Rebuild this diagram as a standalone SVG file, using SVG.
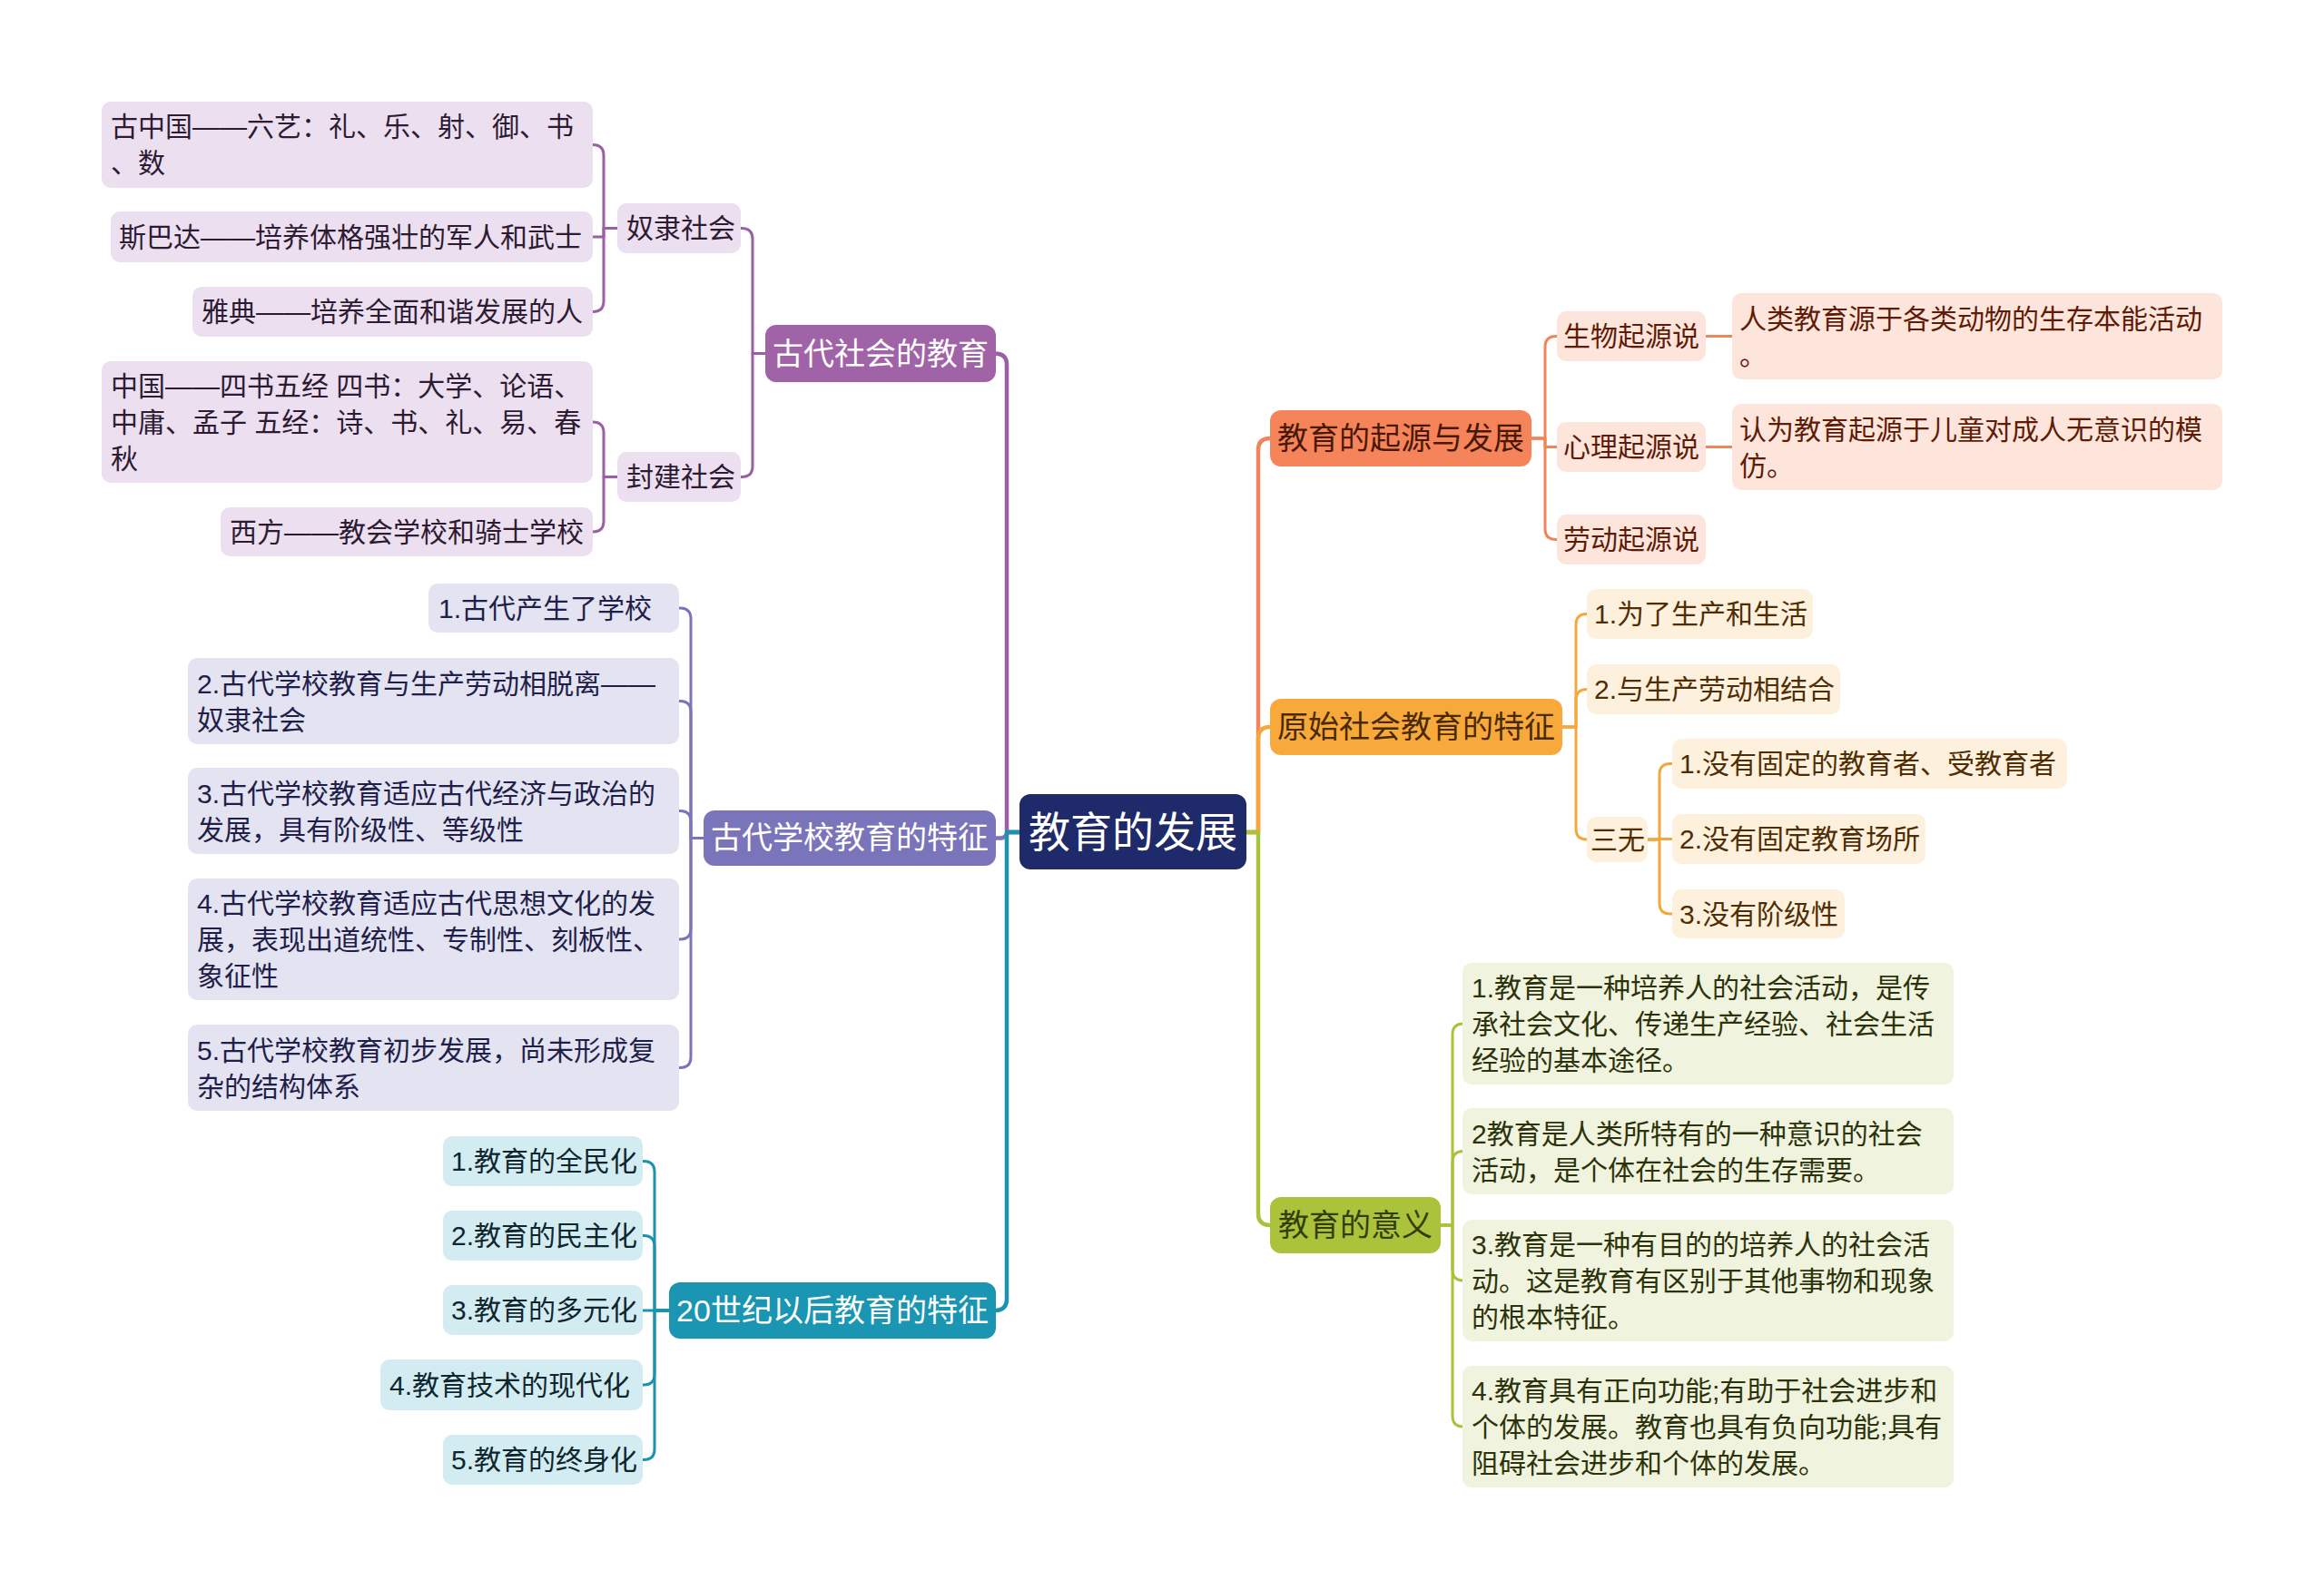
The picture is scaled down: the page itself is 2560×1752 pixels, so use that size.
<svg xmlns="http://www.w3.org/2000/svg" width="2560" height="1752" viewBox="0 0 2560 1752">
<style>
text{font-family:"Liberation Sans","Noto Sans CJK SC",sans-serif;}
.root rect{fill:#1f2a6b;}
.root text{fill:#ffffff;font-size:46px;text-anchor:middle;}
.main text{font-size:34px;text-anchor:middle;}
.sub text{font-size:30px;}
.pu rect{fill:#a063a8;} .pu text{fill:#ffffff;}
.pe rect{fill:#7a74bb;} .pe text{fill:#ffffff;}
.te rect{fill:#1a95b2;} .te text{fill:#ffffff;}
.co rect{fill:#f6845a;} .co text{fill:#4a1806;}
.or rect{fill:#f7a93b;} .or text{fill:#4a2a00;}
.gr rect{fill:#abc33b;} .gr text{fill:#333d08;}
.spu rect{fill:#ecdff0;} .spu text{fill:#2d1b33;}
.spe rect{fill:#e4e3f1;} .spe text{fill:#1f1f4a;}
.ste rect{fill:#d3ecf2;} .ste text{fill:#10262e;}
.sco rect{fill:#fde5db;} .sco text{fill:#5e1c08;}
.sor rect{fill:#fdf0dc;} .sor text{fill:#4f2d05;}
.sgr rect{fill:#f0f3dd;} .sgr text{fill:#2c330c;}
#connectors path{fill:none;stroke-linejoin:round;stroke-linecap:butt;}
.lm{stroke-width:4.5;}
.ls{stroke-width:3;}
.cpu{stroke:#9c5fa6;} .cpe{stroke:#7a74bb;} .cte{stroke:#1a93ae;}
.cco{stroke:#f2845c;} .cor{stroke:#f4a83c;} .cgr{stroke:#a9c23c;}
</style>

<g id="connectors">
<path class="lm cco" d="M1373,917 H1386 V496 Q1386,483 1399,483"/>
<path class="lm cor" d="M1373,917 H1386 V814 Q1386,801 1399,801"/>
<path class="lm cgr" d="M1373,917 H1386 V1337 Q1386,1350 1399,1350"/>
<path class="lm cpu" d="M1123,917 H1109 V402 Q1109,389.5 1096,389.5"/>
<path class="lm cpe" d="M1123,917 H1110 Q1107,923.5 1103,923.5 H1097"/>
<path class="lm cte" d="M1123,917 H1109 V1431 Q1109,1444 1096,1444"/>

<path class="ls cpu" d="M843,389.5 H829 V263.5 Q829,251.5 817,251.5 H816"/>
<path class="ls cpu" d="M843,389.5 H829 V513.5 Q829,525.5 817,525.5 H816"/>
<path class="ls cpu" d="M680,251.5 H665 V171.5 Q665,159.5 653,159.5"/>
<path class="ls cpu" d="M680,251.5 H665 V261 H653"/>
<path class="ls cpu" d="M680,251.5 H665 V331.5 Q665,343.5 653,343.5"/>
<path class="ls cpu" d="M680,525.5 H665 V477 Q665,465 653,465"/>
<path class="ls cpu" d="M680,525.5 H665 V574 Q665,586 653,586"/>

<path class="ls cpe" d="M775,923.5 H761 V682 Q761,670 749,670 H748"/>
<path class="ls cpe" d="M775,923.5 H761 V784.5 Q761,772.5 749,772.5 H748"/>
<path class="ls cpe" d="M775,923.5 H761 V905.5 Q761,893.5 749,893.5 H748"/>
<path class="ls cpe" d="M775,923.5 H761 V1023 Q761,1035 749,1035 H748"/>
<path class="ls cpe" d="M775,923.5 H761 V1164.5 Q761,1176.5 749,1176.5 H748"/>

<path class="ls cte" d="M737,1444 H721 V1291.5 Q721,1279.5 709,1279.5 H708"/>
<path class="ls cte" d="M737,1444 H721 V1373.5 Q721,1361.5 709,1361.5 H708"/>
<path class="ls cte" d="M737,1444 H708"/>
<path class="ls cte" d="M737,1444 H721 V1514 Q721,1526 709,1526 H708"/>
<path class="ls cte" d="M737,1444 H721 V1596.5 Q721,1608.5 709,1608.5 H708"/>

<path class="ls cco" d="M1687,483 H1702 V382.5 Q1702,370.5 1714,370.5 H1715"/>
<path class="ls cco" d="M1687,483 H1702 V492.5 H1715"/>
<path class="ls cco" d="M1687,483 H1702 V582.5 Q1702,594.5 1714,594.5 H1715"/>
<path class="ls cco" d="M1879,370.5 H1908"/>
<path class="ls cco" d="M1879,492.5 H1908"/>

<path class="ls cor" d="M1721,801 H1736 V688.5 Q1736,676.5 1748,676.5"/>
<path class="ls cor" d="M1721,801 H1736 V771.5 Q1736,759.5 1748,759.5"/>
<path class="ls cor" d="M1721,801 H1736 V913 Q1736,925 1748,925"/>
<path class="ls cor" d="M1815,925 H1828 V853.5 Q1828,841.5 1840,841.5 H1842"/>
<path class="ls cor" d="M1815,925 H1828 V924.5 H1842"/>
<path class="ls cor" d="M1815,925 H1828 V995 Q1828,1007 1840,1007 H1842"/>

<path class="ls cgr" d="M1587,1350 H1600 V1140 Q1600,1128 1612,1128"/>
<path class="ls cgr" d="M1587,1350 H1600 V1280.5 Q1600,1268.5 1612,1268.5"/>
<path class="ls cgr" d="M1587,1350 H1600 V1399 Q1600,1411 1612,1411"/>
<path class="ls cgr" d="M1587,1350 H1600 V1560 Q1600,1572 1612,1572"/>
</g>

<g id="root" class="root"><rect x="1123" y="875" width="250" height="83" rx="12"/><text x="1248" y="933">教育的发展</text></g>

<g id="n-gudai-shehui" class="main pu"><rect x="843" y="358" width="254" height="63" rx="12"/><text x="970" y="402">古代社会的教育</text></g>
<g id="n-gudai-xuexiao" class="main pe"><rect x="775" y="893" width="322" height="61" rx="12"/><text x="936" y="935">古代学校教育的特征</text></g>
<g id="n-20shiji" class="main te"><rect x="737" y="1413" width="360" height="62" rx="12"/><text x="917" y="1456">20世纪以后教育的特征</text></g>
<g id="n-qiyuan" class="main co"><rect x="1399" y="452" width="288" height="62" rx="12"/><text x="1543" y="495">教育的起源与发展</text></g>
<g id="n-yuanshi" class="main or"><rect x="1399" y="770" width="322" height="62" rx="12"/><text x="1560" y="813">原始社会教育的特征</text></g>
<g id="n-yiyi" class="main gr"><rect x="1399" y="1319" width="188" height="62" rx="12"/><text x="1493" y="1362">教育的意义</text></g>

<g id="n-nuli" class="sub spu"><rect x="680" y="224" width="136" height="55" rx="10"/><text x="690" y="262">奴隶社会</text></g>
<g id="n-fengjian" class="sub spu"><rect x="680" y="498" width="136" height="55" rx="10"/><text x="690" y="536">封建社会</text></g>
<g id="n-guzhongguo" class="sub spu"><rect x="112" y="112" width="541" height="95" rx="10"/><text x="122" y="150">古中国——六艺：礼、乐、射、御、书</text><text x="122" y="190">、数</text></g>
<g id="n-sibada" class="sub spu"><rect x="122" y="233" width="531" height="56" rx="10"/><text x="131" y="272">斯巴达——培养体格强壮的军人和武士</text></g>
<g id="n-yadian" class="sub spu"><rect x="212" y="316" width="441" height="55" rx="10"/><text x="222" y="354">雅典——培养全面和谐发展的人</text></g>
<g id="n-zhongguo" class="sub spu"><rect x="112" y="398" width="541" height="134" rx="10"/><text x="122" y="436">中国——四书五经 四书：大学、论语、</text><text x="122" y="476">中庸、孟子 五经：诗、书、礼、易、春</text><text x="122" y="516">秋</text></g>
<g id="n-xifang" class="sub spu"><rect x="243" y="559" width="410" height="54" rx="10"/><text x="253" y="597">西方——教会学校和骑士学校</text></g>

<g id="n-p1" class="sub spe"><rect x="472" y="643" width="276" height="54" rx="10"/><text x="483" y="681">1.古代产生了学校</text></g>
<g id="n-p2" class="sub spe"><rect x="207" y="725" width="541" height="95" rx="10"/><text x="217" y="763.5">2.古代学校教育与生产劳动相脱离——</text><text x="217" y="803.5">奴隶社会</text></g>
<g id="n-p3" class="sub spe"><rect x="207" y="846" width="541" height="95" rx="10"/><text x="217" y="884.5">3.古代学校教育适应古代经济与政治的</text><text x="217" y="924.5">发展，具有阶级性、等级性</text></g>
<g id="n-p4" class="sub spe"><rect x="207" y="968" width="541" height="134" rx="10"/><text x="217" y="1006">4.古代学校教育适应古代思想文化的发</text><text x="217" y="1046">展，表现出道统性、专制性、刻板性、</text><text x="217" y="1086">象征性</text></g>
<g id="n-p5" class="sub spe"><rect x="207" y="1129" width="541" height="95" rx="10"/><text x="217" y="1167.5">5.古代学校教育初步发展，尚未形成复</text><text x="217" y="1207.5">杂的结构体系</text></g>

<g id="n-t1" class="sub ste"><rect x="488" y="1252" width="220" height="55" rx="10"/><text x="497" y="1290">1.教育的全民化</text></g>
<g id="n-t2" class="sub ste"><rect x="488" y="1334" width="220" height="55" rx="10"/><text x="497" y="1372">2.教育的民主化</text></g>
<g id="n-t3" class="sub ste"><rect x="488" y="1416" width="220" height="55" rx="10"/><text x="497" y="1454">3.教育的多元化</text></g>
<g id="n-t4" class="sub ste"><rect x="419" y="1498" width="289" height="56" rx="10"/><text x="429" y="1537">4.教育技术的现代化</text></g>
<g id="n-t5" class="sub ste"><rect x="488" y="1581" width="220" height="55" rx="10"/><text x="497" y="1619">5.教育的终身化</text></g>

<g id="n-shengwu" class="sub sco"><rect x="1715" y="343" width="164" height="55" rx="10"/><text x="1722" y="381">生物起源说</text></g>
<g id="n-xinli" class="sub sco"><rect x="1715" y="465" width="164" height="55" rx="10"/><text x="1722" y="503">心理起源说</text></g>
<g id="n-laodong" class="sub sco"><rect x="1715" y="567" width="164" height="55" rx="10"/><text x="1722" y="605">劳动起源说</text></g>
<g id="n-shengwu-d" class="sub sco"><rect x="1908" y="323" width="540" height="95" rx="10"/><text x="1916" y="361.5">人类教育源于各类动物的生存本能活动</text><text x="1916" y="401.5">。</text></g>
<g id="n-xinli-d" class="sub sco"><rect x="1908" y="445" width="540" height="95" rx="10"/><text x="1916" y="483.5">认为教育起源于儿童对成人无意识的模</text><text x="1916" y="523.5">仿。</text></g>

<g id="n-o1" class="sub sor"><rect x="1748" y="649" width="249" height="55" rx="10"/><text x="1756" y="687">1.为了生产和生活</text></g>
<g id="n-o2" class="sub sor"><rect x="1748" y="732" width="279" height="55" rx="10"/><text x="1756" y="770">2.与生产劳动相结合</text></g>
<g id="n-sanwu" class="sub sor"><rect x="1748" y="900" width="67" height="50" rx="10"/><text x="1752" y="936">三无</text></g>
<g id="n-sw1" class="sub sor"><rect x="1842" y="814" width="435" height="55" rx="10"/><text x="1850" y="852">1.没有固定的教育者、受教育者</text></g>
<g id="n-sw2" class="sub sor"><rect x="1842" y="897" width="279" height="55" rx="10"/><text x="1850" y="935">2.没有固定教育场所</text></g>
<g id="n-sw3" class="sub sor"><rect x="1842" y="980" width="190" height="54" rx="10"/><text x="1850" y="1018">3.没有阶级性</text></g>

<g id="n-g1" class="sub sgr"><rect x="1611" y="1061" width="541" height="134" rx="10"/><text x="1621" y="1099">1.教育是一种培养人的社会活动，是传</text><text x="1621" y="1139">承社会文化、传递生产经验、社会生活</text><text x="1621" y="1179">经验的基本途径。</text></g>
<g id="n-g2" class="sub sgr"><rect x="1611" y="1221" width="541" height="95" rx="10"/><text x="1621" y="1259.5">2教育是人类所特有的一种意识的社会</text><text x="1621" y="1299.5">活动，是个体在社会的生存需要。</text></g>
<g id="n-g3" class="sub sgr"><rect x="1611" y="1344" width="541" height="134" rx="10"/><text x="1621" y="1382">3.教育是一种有目的的培养人的社会活</text><text x="1621" y="1422">动。这是教育有区别于其他事物和现象</text><text x="1621" y="1462">的根本特征。</text></g>
<g id="n-g4" class="sub sgr"><rect x="1611" y="1505" width="541" height="134" rx="10"/><text x="1621" y="1543">4.教育具有正向功能;有助于社会进步和</text><text x="1621" y="1583">个体的发展。教育也具有负向功能;具有</text><text x="1621" y="1623">阻碍社会进步和个体的发展。</text></g>
</svg>
